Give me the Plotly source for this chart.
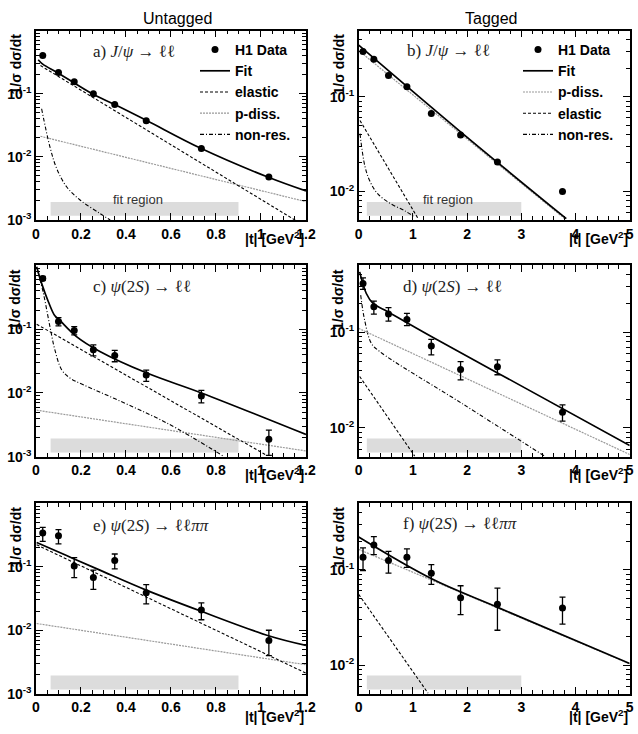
import numpy as np
import plotly.graph_objects as go
from plotly.subplots import make_subplots

# |t| bin centres [GeV^2]
T_UNTAG = [0.03, 0.10, 0.17, 0.255, 0.35, 0.49, 0.735, 1.035]
T_TAG = [0.08, 0.28, 0.55, 0.89, 1.34, 1.88, 2.56, 3.76]

# fit range in |t|
FIT_RANGE_UNTAG = [0.065, 0.90]
FIT_RANGE_TAG = [0.15, 3.0]

# a) J/psi -> ll, untagged
A_DATA = [0.403, 0.217, 0.155, 0.100, 0.0679, 0.0375, 0.01355, 0.00479]
A_FIT_T = [0.01, 0.03, 0.10, 0.25, 0.35, 0.49, 0.73, 1.03, 1.2]
A_FIT = [0.347, 0.295, 0.212, 0.100, 0.0676, 0.0380, 0.0138, 0.00479, 0.00288]
A_EL_T = [0.02, 1.2]
A_EL = [0.280, 0.000782]
A_PD_T = [0.02, 1.2]
A_PD = [0.0212, 0.00195]
A_NR_T = [0.025, 0.062, 0.092, 0.136, 0.196, 0.284, 0.33]
A_NR = [0.0579, 0.0144, 0.00655, 0.00336, 0.00207, 0.00127, 0.00100]

# b) J/psi -> ll, tagged
B_DATA = [0.301, 0.250, 0.168, 0.128, 0.0667, 0.0394, 0.0205, 0.0100]
B_FIT_T = [0.0, 1.88, 3.83]
B_FIT = [0.352, 0.0427, 0.00516]
B_PD_T = [0.0, 3.80]
B_PD = [0.308, 0.00516]
B_EL_T = [0.024, 1.10]
B_EL = [0.0562, 0.00513]
B_NR_T = [0.024, 0.116, 0.208, 0.362, 0.609, 0.854, 1.04]
B_NR = [0.0408, 0.01837, 0.0128, 0.00931, 0.00733, 0.00624, 0.00532]

# c) psi(2S) -> ll, untagged
C_DATA = [0.627, 0.132, 0.0953, 0.0475, 0.0388, 0.0191, 0.00897, 0.00187]
C_HI = [0.676, 0.152, 0.110, 0.0569, 0.0465, 0.0229, 0.0110, 0.00261]
C_LO = [0.582, 0.1127, 0.0815, 0.0383, 0.0309, 0.0152, 0.00698, 0.00105]
C_FIT_T = [0.003, 0.025, 0.055, 0.084, 0.104, 0.18, 0.284, 0.493, 0.735, 1.2]
C_FIT = [0.955, 0.524, 0.270, 0.162, 0.140, 0.0767, 0.0448, 0.0205, 0.0100, 0.00223]
C_EL_T = [0.003, 1.025]
C_EL = [0.120, 0.00105]
C_PD_T = [0.003, 1.2]
C_PD = [0.00536, 0.00123]
C_NR_T = [0.007, 0.033, 0.062, 0.084, 0.114, 0.151, 0.21, 0.359, 0.58, 0.833]
C_NR = [0.845, 0.365, 0.110, 0.0475, 0.0232, 0.01714, 0.01349, 0.00787, 0.0034, 0.00102]

# d) psi(2S) -> ll, tagged
D_DATA = [0.324, 0.185, 0.155, 0.136, 0.0721, 0.0408, 0.0436, 0.01455]
D_HI = [0.371, 0.212, 0.181, 0.158, 0.0845, 0.0494, 0.0515, 0.0174]
D_LO = [0.281, 0.155, 0.131, 0.1175, 0.0581, 0.0318, 0.036, 0.01175]
D_FIT_T = [0.018, 0.141, 0.264, 0.48, 1.34, 2.57, 5.0]
D_FIT = [0.4285, 0.2547, 0.2005, 0.171, 0.0902, 0.0374, 0.00655]
D_PD_T = [0.0, 5.0]
D_PD = [0.110, 0.00527]
D_EL_T = [0.018, 1.033]
D_EL = [0.0345, 0.00507]
D_NR_T = [0.037, 0.11, 0.234, 0.387, 1.9, 3.43]
D_NR = [0.245, 0.134, 0.0767, 0.0630, 0.0181, 0.00507]

# e) psi(2S) -> ll pi pi, untagged
E_DATA = [0.340, 0.308, 0.1026, 0.0676, 0.126, 0.0389, 0.0208, 0.00692]
E_HI = [0.419, 0.385, 0.139, 0.0885, 0.159, 0.0522, 0.027, 0.0100]
E_LO = [0.251, 0.230, 0.0676, 0.044, 0.0929, 0.026, 0.01462, 0.00399]
E_FIT_T = [0.003, 0.136, 0.284, 0.493, 0.735, 1.037, 1.2]
E_FIT = [0.2415, 0.150, 0.0885, 0.0425, 0.01986, 0.00813, 0.00577]
E_EL_T = [0.003, 1.2]
E_EL = [0.2218, 0.00211]
E_PD_T = [0.003, 1.2]
E_PD = [0.01276, 0.00286]

# f) psi(2S) -> ll pi pi, tagged
F_DATA = [0.1355, 0.1824, 0.125, 0.1355, 0.0923, 0.0509, 0.0434, 0.0397]
F_HI = [0.170, 0.223, 0.156, 0.166, 0.1135, 0.0681, 0.0643, 0.0518]
F_LO = [0.0984, 0.1445, 0.0923, 0.1064, 0.0702, 0.0339, 0.0232, 0.0269]
F_FIT_T = [0.0, 1.347, 2.576, 5.0]
F_FIT = [0.221, 0.0805, 0.0401, 0.0104]
F_PD_T = [0.0, 5.0]
F_PD = [0.164, 0.0103]
F_EL_T = [0.0, 1.28]
F_EL = [0.0552, 0.00506]

LINE_STYLES = {
    "Fit": dict(color="black", width=1.7),
    "elastic": dict(color="black", width=1.1, dash="3px,2px"),
    "p-diss.": dict(color="#999999", width=1.2, dash="2px,1px"),
    "non-res.": dict(color="black", width=1.1, dash="4px,2px,1px,2px"),
}

SANS = "Liberation Sans, Arial, sans-serif"
SERIF = "Liberation Serif, DejaVu Serif, serif"


def add_panel(fig, row, col, t, y, curves, y_hi=None, y_lo=None, legend=None, ranks=None):
    """Draw the model curves, then the data points, into one subplot."""
    for name, ct, cv in curves:
        fig.add_trace(
            go.Scatter(
                x=ct, y=cv, mode="lines", name=name,
                line=dict(LINE_STYLES[name], shape="spline" if len(ct) > 2 else "linear"),
                showlegend=legend is not None,
                legend=legend or "legend",
                legendrank=ranks[name] if ranks else 1000,
                hoverinfo="skip",
            ),
            row=row, col=col,
        )
    err = None
    if y_hi is not None:
        err = dict(
            type="data", symmetric=False,
            array=np.array(y_hi) - np.array(y),
            arrayminus=np.array(y) - np.array(y_lo),
            color="black", thickness=1.3, width=3,
        )
    fig.add_trace(
        go.Scatter(
            x=t, y=y, mode="markers", name="H1 Data",
            marker=dict(color="black", size=7),
            error_y=err,
            showlegend=legend is not None,
            legend=legend or "legend",
            legendrank=1,
        ),
        row=row, col=col,
    )


fig = make_subplots(rows=3, cols=2)

add_panel(fig, 1, 1, T_UNTAG, A_DATA, [
    ("p-diss.", A_PD_T, A_PD), ("non-res.", A_NR_T, A_NR),
    ("elastic", A_EL_T, A_EL), ("Fit", A_FIT_T, A_FIT),
], legend="legend", ranks={"Fit": 2, "elastic": 3, "p-diss.": 4, "non-res.": 5})

add_panel(fig, 1, 2, T_TAG, B_DATA, [
    ("non-res.", B_NR_T, B_NR), ("elastic", B_EL_T, B_EL),
    ("p-diss.", B_PD_T, B_PD), ("Fit", B_FIT_T, B_FIT),
], legend="legend2", ranks={"Fit": 2, "p-diss.": 3, "elastic": 4, "non-res.": 5})

add_panel(fig, 2, 1, T_UNTAG, C_DATA, [
    ("p-diss.", C_PD_T, C_PD), ("non-res.", C_NR_T, C_NR),
    ("elastic", C_EL_T, C_EL), ("Fit", C_FIT_T, C_FIT),
], C_HI, C_LO)

add_panel(fig, 2, 2, T_TAG, D_DATA, [
    ("elastic", D_EL_T, D_EL), ("non-res.", D_NR_T, D_NR),
    ("p-diss.", D_PD_T, D_PD), ("Fit", D_FIT_T, D_FIT),
], D_HI, D_LO)

add_panel(fig, 3, 1, T_UNTAG, E_DATA, [
    ("p-diss.", E_PD_T, E_PD), ("elastic", E_EL_T, E_EL), ("Fit", E_FIT_T, E_FIT),
], E_HI, E_LO)

add_panel(fig, 3, 2, T_TAG, F_DATA, [
    ("elastic", F_EL_T, F_EL), ("p-diss.", F_PD_T, F_PD), ("Fit", F_FIT_T, F_FIT),
], F_HI, F_LO)

# panel geometry (paper fractions)
X_DOM = {1: [0.0564, 0.4796], 2: [0.5622, 0.9870]}
Y_DOM = {1: [0.7003, 0.9582], 2: [0.3778, 0.6383], 3: [0.0549, 0.3143]}

axis_common = dict(
    showgrid=False, zeroline=False, showline=True, linecolor="black", linewidth=1.5,
    mirror="ticks", ticks="inside", ticklen=7, tickwidth=1, tickcolor="black",
    automargin=False,
    tickfont=dict(family=SANS, size=14, color="black", weight="bold"),
)

for r in (1, 2, 3):
    for c in (1, 2):
        if c == 1:
            xt = [0, 0.2, 0.4, 0.6, 0.8, 1.0, 1.2]
            fig.update_xaxes(
                domain=X_DOM[c], range=[0, 1.2], tickvals=xt,
                ticktext=["0", "0.2", "0.4", "0.6", "0.8", "1", "1.2"],
                minor=dict(tickvals=list(np.arange(0, 1.2001, 0.05)), ticks="inside",
                           ticklen=4, tickcolor="black"),
                row=r, col=c, **axis_common)
            yt = [1e-3, 1e-2, 1e-1]
            yr = [-3, 0]
        else:
            fig.update_xaxes(
                domain=X_DOM[c], range=[0, 5], tickvals=[0, 1, 2, 3, 4, 5],
                ticktext=["0", "1", "2", "3", "4", "5"],
                minor=dict(tickvals=list(np.arange(0, 5.001, 0.2)), ticks="inside",
                           ticklen=4, tickcolor="black"),
                row=r, col=c, **axis_common)
            yt = [1e-2, 1e-1]
            yr = [np.log10(0.005), np.log10(0.5)]
        minor_y = [k * 10.0 ** e for e in range(-3, 0) for k in range(2, 10)]
        fig.update_yaxes(
            domain=Y_DOM[r], type="log", range=yr, tickvals=yt,
            ticktext=["10<sup>%d</sup>" % int(round(np.log10(v))) for v in yt],
            minor=dict(tickvals=minor_y, ticks="inside", ticklen=4, tickcolor="black"),
            row=r, col=c, **axis_common)

# fit-region bands
for i, (r, c) in enumerate([(1, 1), (1, 2), (2, 1), (2, 2), (3, 1), (3, 2)]):
    n = "" if i == 0 else str(i + 1)
    rng = FIT_RANGE_UNTAG if c == 1 else FIT_RANGE_TAG
    fig.add_shape(type="rect", xref="x" + n, yref="y" + n + " domain",
                  x0=rng[0], x1=rng[1], y0=0.022, y1=0.095,
                  fillcolor="#dcdcdc", line=dict(width=0), layer="below")

annotations = []


def paper_text(text, x, y, size=14, family=SANS, weight="bold", angle=0,
               xanchor="center", color="black"):
    annotations.append(dict(
        text=text, x=x, y=y, xref="paper", yref="paper", showarrow=False,
        xanchor=xanchor, yanchor="middle", textangle=angle,
        font=dict(family=family, size=size, color=color, weight=weight)))


W, H = 638, 734
paper_text("Untagged", 177 / W, 1 - 19 / H, size=16, weight="normal")
paper_text("Tagged", 491 / W, 1 - 19 / H, size=16, weight="normal")

labels = [
    ("a) <i>J</i>/<i>ψ</i> → ℓℓ", 90.7, 51.7),
    ("b) <i>J</i>/<i>ψ</i> → ℓℓ", 405.3, 50.0),
    ("c) <i>ψ</i>(2<i>S</i>) → ℓℓ", 90.7, 286.7),
    ("d) <i>ψ</i>(2<i>S</i>) → ℓℓ", 401.3, 286.7),
    ("e) <i>ψ</i>(2<i>S</i>) → ℓℓ<i>ππ</i>", 90.7, 525.0),
    ("f) <i>ψ</i>(2<i>S</i>) → ℓℓ<i>ππ</i>", 401.3, 523.3),
]
for txt, px, py in labels:
    paper_text(txt, px / W, 1 - py / H, size=17, family=SERIF, weight="normal",
               xanchor="left", color="#222")

for py in (64.5, 300.0, 537.5):
    for px in (15.0, 338.0):
        paper_text("1/σ dσ/dt", px / W, 1 - py / H, angle=-90)

for py in (238.0, 474.0, 716.0):
    for px in (306.0, 630.0):
        paper_text("|t| [GeV<sup>2</sup>]", px / W, 1 - py / H, xanchor="right")

# "fit region" labels in the top row
annotations.append(dict(text="fit region", x=0.453, y=0.058, xref="x", yref="y domain",
                        showarrow=False, font=dict(family=SANS, size=13, color="#333")))
annotations.append(dict(text="fit region", x=1.65, y=0.058, xref="x2", yref="y2 domain",
                        showarrow=False, font=dict(family=SANS, size=13, color="#333")))

legend_style = dict(
    font=dict(family=SANS, size=14, color="black", weight="bold"),
    bgcolor="rgba(0,0,0,0)", itemwidth=30, tracegroupgap=0,
    xanchor="left", yanchor="top",
)

fig.update_layout(
    width=W, height=H,
    margin=dict(l=0, r=0, t=0, b=0, autoexpand=False),
    paper_bgcolor="white", plot_bgcolor="white",
    annotations=annotations,
    legend=dict(x=195 / W, y=1 - 34 / H, **legend_style),
    legend2=dict(x=518 / W, y=1 - 34 / H, **legend_style),
)

# the page body has a default 8px margin; drop it so the figure sits at the corner
fig.write_html("out.html", config={"displayModeBar": False},
               post_script="document.body.style.margin='0';")
